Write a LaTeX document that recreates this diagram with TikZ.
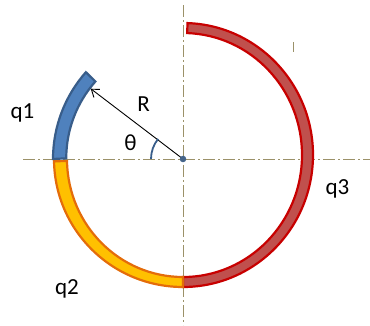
\documentclass[tikz,border=0pt]{standalone}
\usepackage{fontspec}
\setmainfont{Carlito}
\usetikzlibrary{arrows.meta,calc}
\definecolor{axiscol}{RGB}{155,145,105}
\definecolor{bluefill}{RGB}{79,129,189}
\definecolor{blueedge}{RGB}{56,93,138}
\definecolor{orfill}{RGB}{255,192,0}
\definecolor{oredge}{RGB}{228,108,10}
\definecolor{redfill}{RGB}{192,80,77}
\definecolor{rededge}{RGB}{200,0,0}
\tikzset{
  axisline/.style={axiscol, line width=1pt, dash pattern=on 12pt off 3pt on 2pt off 3pt},
  lbl/.style={font=\fontsize{23}{27}\selectfont, inner sep=0pt},
  seg/.style={line width=2.2pt, line join=miter}
}
\begin{document}
\begin{tikzpicture}[x=1pt,y=1pt]
\useasboundingbox (0,0) rectangle (370,325);
\coordinate (c) at (183,166);
\coordinate (cr) at (183,170);
% axes
\coordinate (hl) at (23,166);
\coordinate (hr) at (370,166);
\coordinate (vt) at (183,320);
\coordinate (vb) at (183,0);
\draw[axisline] (hl) -- (hr);
\draw[axisline] (vt) -- (vb);
\coordinate (tk1) at (293,283);
\coordinate (tk2) at (293,273);
\draw[axiscol, line width=1pt] (tk1) -- (tk2);
% red arc q3
\draw[seg, draw=rededge, fill=redfill] ($(cr)+(88:130 and 132)$) arc[start angle=88, end angle=-90, x radius=130, y radius=132]
  -- ($(cr)+(-90:119 and 122)$) arc[start angle=-90, end angle=88, x radius=119, y radius=122] -- cycle;
% orange arc q2
\draw[seg, draw=oredge, fill=orfill] ($(c)+(181:129 and 128)$) arc[start angle=181, end angle=270, x radius=129, y radius=128]
  -- ($(c)+(270:116 and 118)$) arc[start angle=270, end angle=181, x radius=116, y radius=118] -- cycle;
% blue arc q1
\draw[seg, draw=blueedge, fill=bluefill] ($(c)+(180:130)$) arc[start angle=180, end angle=138.5, radius=131]
  -- ($(c)+(138.5:117)$) arc[start angle=138.5, end angle=180, radius=116] -- cycle;
% radius arrow
\coordinate (rtip) at ($(c)+(142.7:116)$);
\draw[line width=0.9pt, -{Straight Barb[length=7pt, width=10pt]}] (c) -- (rtip);
% theta arc
\draw[blueedge, line width=1.8pt] ($(c)+(180:32)$) arc[start angle=180, end angle=141, radius=32];
% center dot
\node[circle, fill=blueedge!80!gray, draw=blueedge, inner sep=0pt, minimum size=6pt] (dot) at (c) {};
% labels
\node[lbl] (R) at (143.5,220.5) {R};
\node[lbl] (th) at (130.5,182.5) {θ};
\node[lbl] (q1) at (22.5,212) {q1};
\node[lbl] (q2) at (67,36) {q2};
\node[lbl] (q3) at (337.5,136) {q3};
\end{tikzpicture}
\end{document}
